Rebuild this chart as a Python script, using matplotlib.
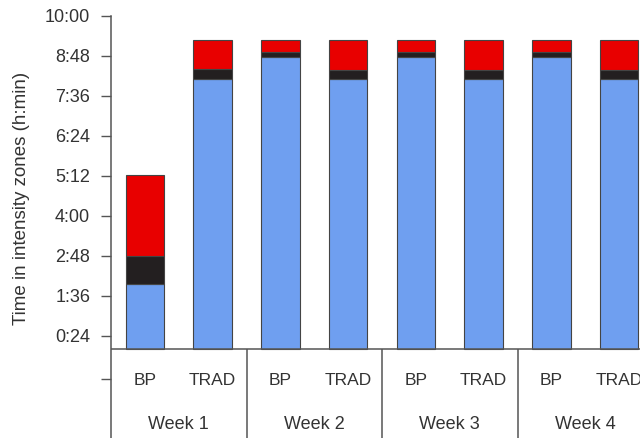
import matplotlib
matplotlib.use("Agg")
import matplotlib.pyplot as plt
import numpy as np

plt.rcParams['font.family'] = ['Liberation Sans', 'DejaVu Sans']

# minutes per zone, order: wk1 BP, wk1 TRAD, wk2 BP, wk2 TRAD, ...
groups = ['BP', 'TRAD', 'BP', 'TRAD', 'BP', 'TRAD', 'BP', 'TRAD']
weeks = ['Week 1', 'Week 2', 'Week 3', 'Week 4']
zone1 = [117, 487, 527, 487, 527, 486, 527, 486]   # blue
zone2 = [51, 17, 9, 16, 8, 17, 8, 17]              # black
zone3 = [145, 52, 20, 53, 21, 53, 21, 53]          # red
yticks_min = [24, 96, 168, 240, 312, 384, 456, 528, 600]

blue = '#6f9ff0'
black = '#231f20'
red = '#e80000'
edge = '#444444'
txt = '#333333'
grey = '#555555'

fig = plt.figure(figsize=(6.4, 4.38), dpi=100)
ax = fig.add_axes([111/640, 0, 542/640, 422/438])

x = np.arange(len(groups)) + 0.5
z1 = np.array(zone1)
z2 = np.array(zone2)
z3 = np.array(zone3)
w = 0.57
ax.bar(x, z1, w, color=blue, edgecolor=edge, linewidth=0.8)
ax.bar(x, z2, w, bottom=z1, color=black, edgecolor=edge, linewidth=0.8)
ax.bar(x, z3, w, bottom=z1 + z2, color=red, edgecolor=edge, linewidth=0.8)

ax.set_xlim(0, len(groups))
ax.set_ylim(-160, 600)

# table-like category axis below the bars
ax.axhline(0, color=grey, linewidth=1.1)
ax.vlines([2, 4, 6], -200, 0, color=grey, linewidth=1.1)
for xi, g in zip(x, groups):
    ax.text(xi, -56, g, ha='center', va='center', fontsize=12.5, color=txt)
for i, wk in enumerate(weeks):
    ax.text(2 * i + 1, -136, wk, ha='center', va='center', fontsize=13, color=txt)

ticks = [-54] + yticks_min
labels = [''] + ['%d:%02d' % (m // 60, m % 60) for m in yticks_min]
ax.set_yticks(ticks)
ax.set_yticklabels(labels)
ax.tick_params(axis='y', length=7, width=1, color=grey, pad=8, labelsize=13, labelcolor=txt)
ax.set_xticks([])

for s in ['top', 'right', 'bottom']:
    ax.spines[s].set_visible(False)
ax.spines['left'].set_color(grey)
ax.spines['left'].set_linewidth(1.1)

fig.text(22/640, 1 - 198/438, 'Time in intensity zones (h:min)', rotation=90,
         ha='center', va='center', fontsize=13.5, color=txt)

fig.savefig('out.png', dpi=100)
